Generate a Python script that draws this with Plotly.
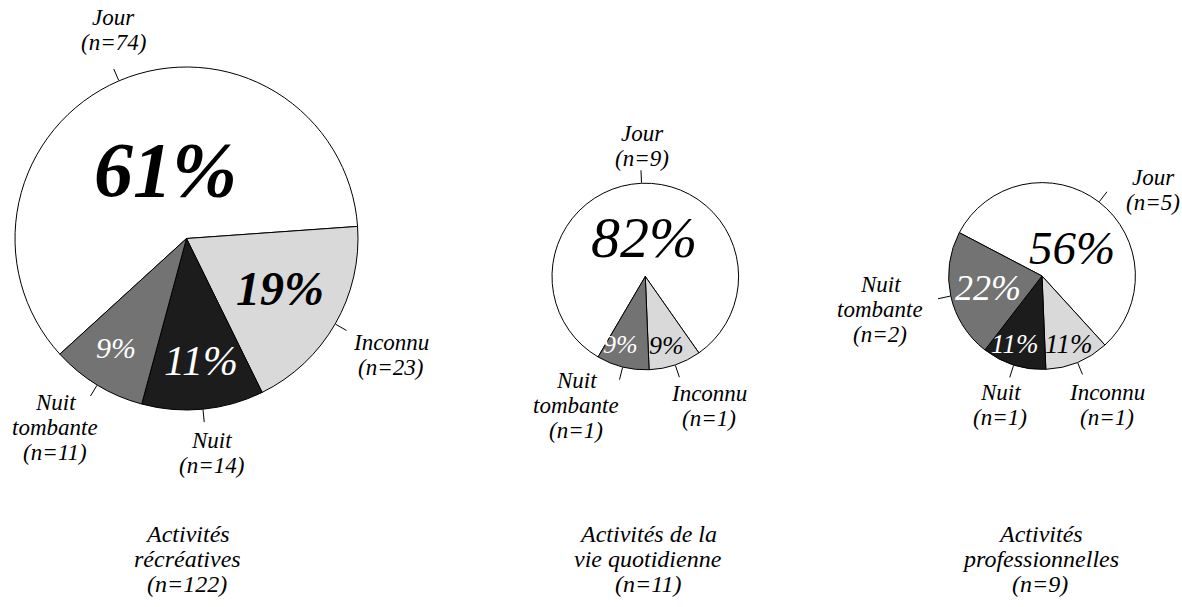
import math
import plotly.graph_objects as go

# ---------------- data ----------------
categories = ["Jour", "Inconnu", "Nuit", "Nuit tombante"]
category_lines = [["Jour"], ["Inconnu"], ["Nuit"], ["Nuit", "tombante"]]
activity_titles = [["Activités", "récréatives"],
                   ["Activités de la", "vie quotidienne"],
                   ["Activités", "professionnelles"]]
recreatives = [74, 23, 14, 11]
vie_quotidienne = [9, 1, 0, 1]
professionnelles = [5, 1, 1, 2]
series = [recreatives, vie_quotidienne, professionnelles]

# ---------------- style / layout ----------------
W, H = 1182, 607
FONT = "Liberation Serif"
COLORS = ["#ffffff", "#d9d9d9", "#1c1c1c", "#737373"]
PCT_COLORS = ["black", "black", "white", "white"]
GEOM = [dict(cx=186.5, cy=238.5, r=171.5, rot=-132.4),
        dict(cx=645.3, cy=276.5, r=93.3, rot=-149.6),
        dict(cx=1042.0, cy=276.0, r=93.4, rot=-62.35)]
# per pie, per category: (radial fraction, angular offset deg clockwise, font size, bold)
PCT_STYLE = [
    [(0.42, 6, 78, True), (0.62, -2, 48, True), (0.72, -1, 42, False), (0.76, 1.5, 30, False)],
    [(0.42, 0, 58, False), (0.77, 1.5, 26, False), None, (0.78, 6, 26, False)],
    [(0.44, 9.6, 47, False), (0.78, 0.8, 27, False), (0.78, 4, 27, False), (0.59, -0.6, 36, False)],
]
# label block centers (px)
LABEL_POS = [
    [(113, 30), (391, 355), (211, 453), (55, 427)],
    [(642, 146), (709, 406), None, (576, 405)],
    [(1153, 190), (1107, 405), (1000, 405), (880, 309)],
]
TITLE_X = [187, 648, 1040]
TITLE_Y0 = 534
LINE_SP = 25
LABEL_SIZE = 23
TITLE_SIZE = 24


def px(x):
    return x / W


def py(y):
    return 1 - y / H


fig = go.Figure()
annotations = []
shapes = []


def add_text(x, y, text, size, color="black", yshift=0):
    annotations.append(dict(x=px(x), y=py(y), xref="paper", yref="paper", text=text,
                            showarrow=False, xanchor="center", yanchor="middle",
                            yshift=yshift,
                            font=dict(family=FONT, size=size, color=color)))


for p, vals in enumerate(series):
    g = GEOM[p]
    idx = [i for i, v in enumerate(vals) if v > 0]
    labs = [categories[i] for i in idx]
    vs = [vals[i] for i in idx]
    cols = [COLORS[i] for i in idx]
    fig.add_trace(go.Pie(
        labels=labs, values=vs, sort=False, direction="clockwise", rotation=g["rot"],
        marker=dict(colors=cols, line=dict(color="black", width=1)),
        textinfo="none", hoverinfo="skip", showlegend=False,
        domain=dict(x=[px(g["cx"] - g["r"]), px(g["cx"] + g["r"])],
                    y=[py(g["cy"] + g["r"]), py(g["cy"] - g["r"])]),
    ))
    total = sum(vals)
    cum = 0
    for i, v in enumerate(vals):
        if v <= 0:
            continue
        mid = g["rot"] + (cum + v / 2) / total * 360
        cum += v
        # leader line
        a = math.radians(mid)
        r0, r1 = g["r"] + 0.5, g["r"] + 13
        shapes.append(dict(type="line", xref="paper", yref="paper",
                           x0=px(g["cx"] + r0 * math.sin(a)), y0=py(g["cy"] - r0 * math.cos(a)),
                           x1=px(g["cx"] + r1 * math.sin(a)), y1=py(g["cy"] - r1 * math.cos(a)),
                           line=dict(color="black", width=1)))
        # percentage label
        frac, dang, size, bold = PCT_STYLE[p][i]
        b = math.radians(mid + dang)
        tx = g["cx"] + frac * g["r"] * math.sin(b)
        ty = g["cy"] - frac * g["r"] * math.cos(b)
        pct = f"{round(100 * v / total)}%"
        txt = f"<i>{pct}</i>"
        if bold:
            txt = f"<b>{txt}</b>"
        add_text(tx, ty, txt, size, PCT_COLORS[i])
        # outside label
        lines = category_lines[i] + [f"(n={v})"]
        lx, ly = LABEL_POS[p][i]
        n = len(lines)
        for k, ln in enumerate(lines):
            add_text(lx, ly + (k - (n - 1) / 2) * LINE_SP, f"<i>{ln}</i>", LABEL_SIZE)
    # title
    tl = activity_titles[p] + [f"(n={total})"]
    for k, ln in enumerate(tl):
        add_text(TITLE_X[p], TITLE_Y0 + k * LINE_SP, f"<i>{ln}</i>", TITLE_SIZE)

fig.update_layout(width=W, height=H, margin=dict(l=0, r=0, t=0, b=0),
                  paper_bgcolor="white", plot_bgcolor="white",
                  annotations=annotations, shapes=shapes)
fig.write_html("out.html", config={"displayModeBar": False},
               post_script="document.body.style.margin='0';document.body.style.padding='0';")
